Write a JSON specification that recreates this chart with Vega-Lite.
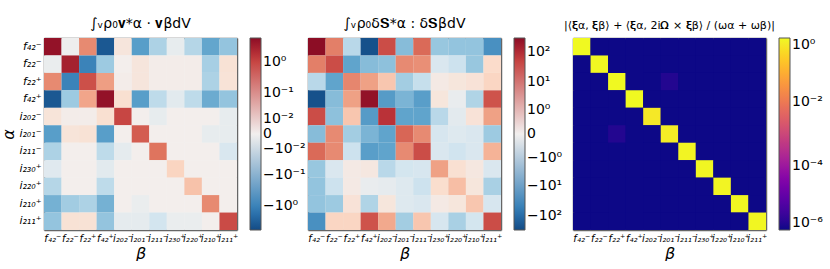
{
"$schema": "https://vega.github.io/schema/vega-lite/v6.json",
"background": "white",
"padding": {"left": 0, "top": 16, "right": 0, "bottom": 0},
"config": {
  "font": "DejaVu Sans",
  "view": {"stroke": null},
  "axis": {"tickSize": -4, "tickColor": "#000", "tickWidth": 1, "domainColor": "#666", "domainWidth": 1.5, "labelPadding": 7, "zindex": 1, "labelFont": "DejaVu Sans", "labelFontSize": 11, "labelFontStyle": "italic", "labelColor": "#000", "labelAngle": 0, "labelOverlap": false, "titleFont": "DejaVu Sans", "titleFontSize": 16, "titleFontWeight": "normal", "titleFontStyle": "italic", "titleColor": "#000", "titlePadding": 2},
  "axisBottom": {"labelFontSize": 10},
  "legend": {"orient": "right", "direction": "vertical", "gradientLength": 192, "gradientThickness": 11, "offset": 12, "labelFontSize": 14, "labelFont": "DejaVu Sans", "labelColor": "#000", "labelOffset": 4, "gradientStrokeColor": "#555", "gradientStrokeWidth": 1, "labelOverlap": false, "padding": 0},
  "title": {"fontSize": 14, "fontWeight": "normal", "font": "DejaVu Sans", "offset": 7, "color": "#000"}
},
"data": {"values": [
{"r":0,"c":0,"v1":5,"v2":300,"v3":1},{"r":0,"c":1,"v1":-0.001,"v2":12,"v3":1e-6},{"r":0,"c":2,"v1":0.2,"v2":-1.5,"v3":1e-6},{"r":0,"c":3,"v1":-4,"v2":-250,"v3":1e-6},{"r":0,"c":4,"v1":0.005,"v2":40,"v3":1e-6},{"r":0,"c":5,"v1":-0.4,"v2":-6,"v3":1e-6},{"r":0,"c":6,"v1":-0.05,"v2":20,"v3":1e-6},{"r":0,"c":7,"v1":-0.003,"v2":-4,"v3":1e-6},{"r":0,"c":8,"v1":-0.04,"v2":-4.5,"v3":1e-6},{"r":0,"c":9,"v1":-0.3,"v2":-4.5,"v3":1e-6},{"r":0,"c":10,"v1":-0.1,"v2":-30,"v3":1e-6},
{"r":1,"c":0,"v1":-0.002,"v2":12,"v3":1e-6},{"r":1,"c":1,"v1":3,"v2":40,"v3":0.95},{"r":1,"c":2,"v1":-1,"v2":-15,"v3":1e-6},{"r":1,"c":3,"v1":-0.08,"v2":-6,"v3":1e-6},{"r":1,"c":4,"v1":0.0005,"v2":-5,"v3":1e-6},{"r":1,"c":5,"v1":0.005,"v2":9,"v3":1e-6},{"r":1,"c":6,"v1":0.001,"v2":8,"v3":1e-6},{"r":1,"c":7,"v1":0.001,"v2":-0.4,"v3":1e-6},{"r":1,"c":8,"v1":0.001,"v2":-0.8,"v3":1e-6},{"r":1,"c":9,"v1":-0.06,"v2":-4,"v3":1e-6},{"r":1,"c":10,"v1":0.008,"v2":0.6,"v3":1e-6},
{"r":2,"c":0,"v1":0.2,"v2":-1.5,"v3":1e-6},{"r":2,"c":1,"v1":-1,"v2":-15,"v3":1e-6},{"r":2,"c":2,"v1":0.8,"v2":10,"v3":1},{"r":2,"c":3,"v1":0.12,"v2":5,"v3":1e-6},{"r":2,"c":4,"v1":0.001,"v2":1.5,"v3":1e-6},{"r":2,"c":5,"v1":0.005,"v2":-3,"v3":1.6e-6},{"r":2,"c":6,"v1":0.001,"v2":-1,"v3":1e-6},{"r":2,"c":7,"v1":0.001,"v2":0.1,"v3":1e-6},{"r":2,"c":8,"v1":0.001,"v2":0.2,"v3":1e-6},{"r":2,"c":9,"v1":-0.05,"v2":0.3,"v3":1e-6},{"r":2,"c":10,"v1":0.007,"v2":0.8,"v3":1e-6},
{"r":3,"c":0,"v1":-4,"v2":-250,"v3":1e-6},{"r":3,"c":1,"v1":-0.08,"v2":-6,"v3":1e-6},{"r":3,"c":2,"v1":0.1,"v2":5,"v3":1e-6},{"r":3,"c":3,"v1":5,"v2":250,"v3":1},{"r":3,"c":4,"v1":0.01,"v2":-20,"v3":1e-6},{"r":3,"c":5,"v1":-0.4,"v2":-8,"v3":1e-6},{"r":3,"c":6,"v1":-0.03,"v2":-18,"v3":1e-6},{"r":3,"c":7,"v1":-0.005,"v2":0.2,"v3":1e-6},{"r":3,"c":8,"v1":-0.03,"v2":-0.1,"v3":1e-6},{"r":3,"c":9,"v1":-0.25,"v2":-2,"v3":1e-6},{"r":3,"c":10,"v1":-0.1,"v2":35,"v3":1e-6},
{"r":4,"c":0,"v1":0.006,"v2":40,"v3":1e-6},{"r":4,"c":1,"v1":0.001,"v2":-5,"v3":1e-6},{"r":4,"c":2,"v1":0.001,"v2":1.5,"v3":1e-6},{"r":4,"c":3,"v1":0.01,"v2":-20,"v3":1e-6},{"r":4,"c":4,"v1":1,"v2":80,"v3":0.6},{"r":4,"c":5,"v1":0.0005,"v2":-15,"v3":1e-6},{"r":4,"c":6,"v1":-0.003,"v2":-15,"v3":1e-6},{"r":4,"c":7,"v1":0.0005,"v2":-1.5,"v3":1e-6},{"r":4,"c":8,"v1":0.0005,"v2":-0.2,"v3":1e-6},{"r":4,"c":9,"v1":0.0005,"v2":0.3,"v3":1e-6},{"r":4,"c":10,"v1":-0.003,"v2":5,"v3":1e-6},
{"r":5,"c":0,"v1":-0.4,"v2":-6,"v3":1e-6},{"r":5,"c":1,"v1":0.006,"v2":9,"v3":1e-6},{"r":5,"c":2,"v1":0.008,"v2":-3,"v3":1.6e-6},{"r":5,"c":3,"v1":-0.4,"v2":-8,"v3":1e-6},{"r":5,"c":4,"v1":0.0005,"v2":-15,"v3":1e-6},{"r":5,"c":5,"v1":0.6,"v2":22,"v3":0.7},{"r":5,"c":6,"v1":0.0005,"v2":9,"v3":1e-6},{"r":5,"c":7,"v1":0.0005,"v2":-0.5,"v3":1e-6},{"r":5,"c":8,"v1":0.0005,"v2":-0.3,"v3":1e-6},{"r":5,"c":9,"v1":-0.003,"v2":-0.4,"v3":1e-6},{"r":5,"c":10,"v1":-0.003,"v2":-3.5,"v3":1e-6},
{"r":6,"c":0,"v1":-0.05,"v2":20,"v3":1e-6},{"r":6,"c":1,"v1":0.0005,"v2":9,"v3":1e-6},{"r":6,"c":2,"v1":0.0005,"v2":-0.8,"v3":1e-6},{"r":6,"c":3,"v1":-0.03,"v2":-18,"v3":1e-6},{"r":6,"c":4,"v1":-0.004,"v2":-15,"v3":1e-6},{"r":6,"c":5,"v1":0.0005,"v2":9,"v3":1e-6},{"r":6,"c":6,"v1":0.35,"v2":40,"v3":0.85},{"r":6,"c":7,"v1":0.0005,"v2":-0.4,"v3":1e-6},{"r":6,"c":8,"v1":0.0005,"v2":-0.7,"v3":1e-6},{"r":6,"c":9,"v1":0.0005,"v2":-0.4,"v3":1e-6},{"r":6,"c":10,"v1":-0.01,"v2":3,"v3":1e-6},
{"r":7,"c":0,"v1":-0.006,"v2":-4,"v3":1e-6},{"r":7,"c":1,"v1":0.0005,"v2":-0.4,"v3":1e-6},{"r":7,"c":2,"v1":0.0005,"v2":0.1,"v3":1e-6},{"r":7,"c":3,"v1":-0.005,"v2":0.15,"v3":1e-6},{"r":7,"c":4,"v1":0.0005,"v2":-1.5,"v3":1e-6},{"r":7,"c":5,"v1":0.0005,"v2":-0.6,"v3":1e-6},{"r":7,"c":6,"v1":0.0005,"v2":-0.5,"v3":1e-6},{"r":7,"c":7,"v1":0.02,"v2":5,"v3":0.9},{"r":7,"c":8,"v1":0.0005,"v2":0.4,"v3":1e-6},{"r":7,"c":9,"v1":0.0005,"v2":0.15,"v3":1e-6},{"r":7,"c":10,"v1":0.0005,"v2":-0.4,"v3":1e-6},
{"r":8,"c":0,"v1":-0.04,"v2":-4.5,"v3":1e-6},{"r":8,"c":1,"v1":0.0005,"v2":-0.8,"v3":1e-6},{"r":8,"c":2,"v1":0.0005,"v2":0.1,"v3":1e-6},{"r":8,"c":3,"v1":-0.03,"v2":-0.1,"v3":1e-6},{"r":8,"c":4,"v1":0.0005,"v2":-0.15,"v3":1e-6},{"r":8,"c":5,"v1":0.0005,"v2":-0.3,"v3":1e-6},{"r":8,"c":6,"v1":0.0005,"v2":-0.8,"v3":1e-6},{"r":8,"c":7,"v1":0.0005,"v2":0.5,"v3":1e-6},{"r":8,"c":8,"v1":0.04,"v2":2,"v3":0.85},{"r":8,"c":9,"v1":0.0005,"v2":0.2,"v3":1e-6},{"r":8,"c":10,"v1":0.0005,"v2":-2.5,"v3":1e-6},
{"r":9,"c":0,"v1":-0.2,"v2":-4.5,"v3":1e-6},{"r":9,"c":1,"v1":-0.07,"v2":-3.5,"v3":1e-6},{"r":9,"c":2,"v1":-0.05,"v2":0.3,"v3":1e-6},{"r":9,"c":3,"v1":-0.2,"v2":-2,"v3":1e-6},{"r":9,"c":4,"v1":0.0005,"v2":0.2,"v3":1e-6},{"r":9,"c":5,"v1":-0.002,"v2":-0.3,"v3":1e-6},{"r":9,"c":6,"v1":0.0005,"v2":-0.4,"v3":1e-6},{"r":9,"c":7,"v1":0.0005,"v2":0.1,"v3":1e-6},{"r":9,"c":8,"v1":0.0005,"v2":0.2,"v3":1e-6},{"r":9,"c":9,"v1":0.2,"v2":1.5,"v3":0.9},{"r":9,"c":10,"v1":0.0005,"v2":-0.5,"v3":1e-6},
{"r":10,"c":0,"v1":-0.1,"v2":-30,"v3":1e-6},{"r":10,"c":1,"v1":0.008,"v2":0.8,"v3":1e-6},{"r":10,"c":2,"v1":0.008,"v2":0.8,"v3":1e-6},{"r":10,"c":3,"v1":-0.1,"v2":35,"v3":1e-6},{"r":10,"c":4,"v1":-0.004,"v2":4,"v3":1e-6},{"r":10,"c":5,"v1":-0.004,"v2":-3,"v3":1e-6},{"r":10,"c":6,"v1":-0.015,"v2":1.5,"v3":1e-6},{"r":10,"c":7,"v1":-0.002,"v2":-0.5,"v3":1e-6},{"r":10,"c":8,"v1":-0.002,"v2":-2.5,"v3":1e-6},{"r":10,"c":9,"v1":0.0005,"v2":-0.6,"v3":1e-6},{"r":10,"c":10,"v1":0.9,"v2":40,"v3":0.9}
]},
"spacing": 1,
"resolve": {"scale": {"color": "independent"}, "legend": {"color": "independent"}},
"hconcat": [
 {
  "width": 193, "height": 192,
  "title": "∫ᵥρ₀𝐯*α · 𝐯βdV",
  "view": {"fill": "#f2f2f2", "stroke": null},
  "layer": [
   {"mark": {"type": "rect"},
    "encoding": {
     "x": {"field": "c", "type": "ordinal", "axis": {"orient": "bottom", "title": "β", "labelExpr": "['f₄₂⁻','f₂₂⁻','f₂₂⁺','f₄₂⁺','i₂₀₂⁻','i₂₀₁⁻','i₂₁₁⁻','i₂₃₀⁺','i₂₂₀⁺','i₂₁₀⁺','i₂₁₁⁺'][datum.value]"}},
     "y": {"field": "r", "type": "ordinal", "axis": {"orient": "left", "title": "α", "labelExpr": "['f₄₂⁻','f₂₂⁻','f₂₂⁺','f₄₂⁺','i₂₀₂⁻','i₂₀₁⁻','i₂₁₁⁻','i₂₃₀⁺','i₂₂₀⁺','i₂₁₀⁺','i₂₁₁⁺'][datum.value]"}},
     "color": {"field": "v1", "type": "quantitative", "scale": {"type": "symlog", "constant": 0.005, "domain": [-6, 6], "scheme": "redblue", "reverse": true},
       "legend": {"title": null, "values": [-1, -0.1, -0.01, 0, 0.01, 0.1, 1], "labelExpr": "datum.value == 1 ? '10⁰' : datum.value == 0.1 ? '10⁻¹' : datum.value == 0.01 ? '10⁻²' : datum.value == 0 ? '0' : datum.value == -0.01 ? '−10⁻²' : datum.value == -0.1 ? '−10⁻¹' : '−10⁰'"}}
    }},
   {"mark": {"type": "rect", "opacity": 0},
    "encoding": {
     "x": {"field": "c", "type": "ordinal", "axis": {"orient": "top", "labels": false, "title": null}},
     "y": {"field": "r", "type": "ordinal", "axis": {"orient": "right", "labels": false, "title": null}}
    }}
  ],
  "resolve": {"axis": {"x": "independent", "y": "independent"}}
 },
 {
  "width": 193, "height": 192,
  "title": "∫ᵥρ₀δ𝐒*α : δ𝐒βdV",
  "view": {"fill": "#eeeeee", "stroke": null},
  "layer": [
   {"mark": {"type": "rect"},
    "encoding": {
     "x": {"field": "c", "type": "ordinal", "axis": {"orient": "bottom", "title": "β", "labelExpr": "['f₄₂⁻','f₂₂⁻','f₂₂⁺','f₄₂⁺','i₂₀₂⁻','i₂₀₁⁻','i₂₁₁⁻','i₂₃₀⁺','i₂₂₀⁺','i₂₁₀⁺','i₂₁₁⁺'][datum.value]"}},
     "y": {"field": "r", "type": "ordinal", "axis": {"orient": "left", "title": null, "labels": false}},
     "color": {"field": "v2", "type": "quantitative", "scale": {"type": "symlog", "constant": 0.2, "domain": [-300, 300], "scheme": "redblue", "reverse": true},
       "legend": {"title": null, "values": [-100, -10, -1, 0, 1, 10, 100], "labelExpr": "datum.value == 100 ? '10²' : datum.value == 10 ? '10¹' : datum.value == 1 ? '10⁰' : datum.value == 0 ? '0' : datum.value == -1 ? '−10⁰' : datum.value == -10 ? '−10¹' : '−10²'"}}
    }},
   {"mark": {"type": "rect", "opacity": 0},
    "encoding": {
     "x": {"field": "c", "type": "ordinal", "axis": {"orient": "top", "labels": false, "title": null}},
     "y": {"field": "r", "type": "ordinal", "axis": {"orient": "right", "labels": false, "title": null}}
    }}
  ],
  "resolve": {"axis": {"x": "independent", "y": "independent"}}
 },
 {
  "width": 193, "height": 192,
  "title": {"text": "|⟨𝛏α, 𝛏β⟩ + ⟨𝛏α, 2i𝛀 × 𝛏β⟩ / (ωα + ωβ)|", "fontSize": 11},
  "view": {"fill": "#0d0887", "stroke": null},
  "layer": [
   {"mark": {"type": "rect"},
    "encoding": {
     "x": {"field": "c", "type": "ordinal", "axis": {"orient": "bottom", "title": "β", "labelExpr": "['f₄₂⁻','f₂₂⁻','f₂₂⁺','f₄₂⁺','i₂₀₂⁻','i₂₀₁⁻','i₂₁₁⁻','i₂₃₀⁺','i₂₂₀⁺','i₂₁₀⁺','i₂₁₁⁺'][datum.value]"}},
     "y": {"field": "r", "type": "ordinal", "axis": {"orient": "left", "title": null, "labels": false}},
     "color": {"field": "v3", "type": "quantitative", "scale": {"type": "log", "domain": [1e-6, 1], "scheme": "plasma", "clamp": true},
       "legend": {"title": null, "values": [1e-6, 1e-4, 1e-2, 1], "labelExpr": "datum.value == 1 ? '10⁰' : datum.value == 0.01 ? '10⁻²' : datum.value == 0.0001 ? '10⁻⁴' : '10⁻⁶'"}}
    }},
   {"mark": {"type": "rect", "opacity": 0},
    "encoding": {
     "x": {"field": "c", "type": "ordinal", "axis": {"orient": "top", "labels": false, "title": null}},
     "y": {"field": "r", "type": "ordinal", "axis": {"orient": "right", "labels": false, "title": null}}
    }}
  ],
  "resolve": {"axis": {"x": "independent", "y": "independent"}}
 }
]
}
